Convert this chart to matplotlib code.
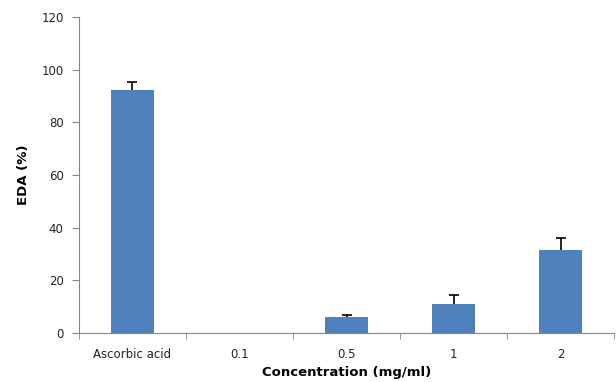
import numpy as np
import matplotlib.pyplot as plt

categories = ["Ascorbic acid", "0.1", "0.5", "1", "2"]
eda = [92.3, 0.0, 6.2, 11.1, 31.4]
err = [3.0, 0.0, 0.7, 3.2, 4.8]

plt.rcParams['font.family'] = ['DejaVu Sans']

fig = plt.figure(figsize=(6.16, 3.82), dpi=100)
ax = fig.add_axes([0.128, 0.128, 0.869, 0.827])

x = np.arange(len(categories))
ax.bar(x, eda, width=0.4, color='#4F81BD', zorder=2)

# only the upper half of the error bars, skip the empty ones
has_err = np.array(err) > 0
_, caps, _ = ax.errorbar(x[has_err], np.array(eda)[has_err],
                         yerr=[np.zeros(has_err.sum()), np.array(err)[has_err]],
                         fmt='none', ecolor='black', elinewidth=1.2,
                         capsize=3.5, capthick=1.2, zorder=3)
caps[0].set_visible(False)

ax.set_xlim(-0.5, len(categories) - 0.5)
ax.set_ylim(0, 120)
ax.set_yticks(np.arange(0, 121, 20))
ax.set_xticks(x)
ax.set_xticklabels(categories)
ax.set_xticks(np.arange(-0.5, len(categories), 1), minor=True)

for s in ['top', 'right']:
    ax.spines[s].set_visible(False)
for s in ['left', 'bottom']:
    ax.spines[s].set_color('#868686')

ax.tick_params(axis='x', which='major', length=0, labelsize=8.5, colors='#222222', pad=11)
ax.tick_params(axis='x', which='minor', length=4, color='#868686')
ax.tick_params(axis='y', length=5, color='#868686', labelcolor='#222222', labelsize=8.5, pad=6)

ax.set_ylabel("EDA (%)", fontsize=9.5, fontweight='bold', labelpad=8)
ax.set_xlabel("Concentration (mg/ml)", fontsize=9.5, fontweight='bold', labelpad=3)

fig.savefig("out.png", dpi=100)
